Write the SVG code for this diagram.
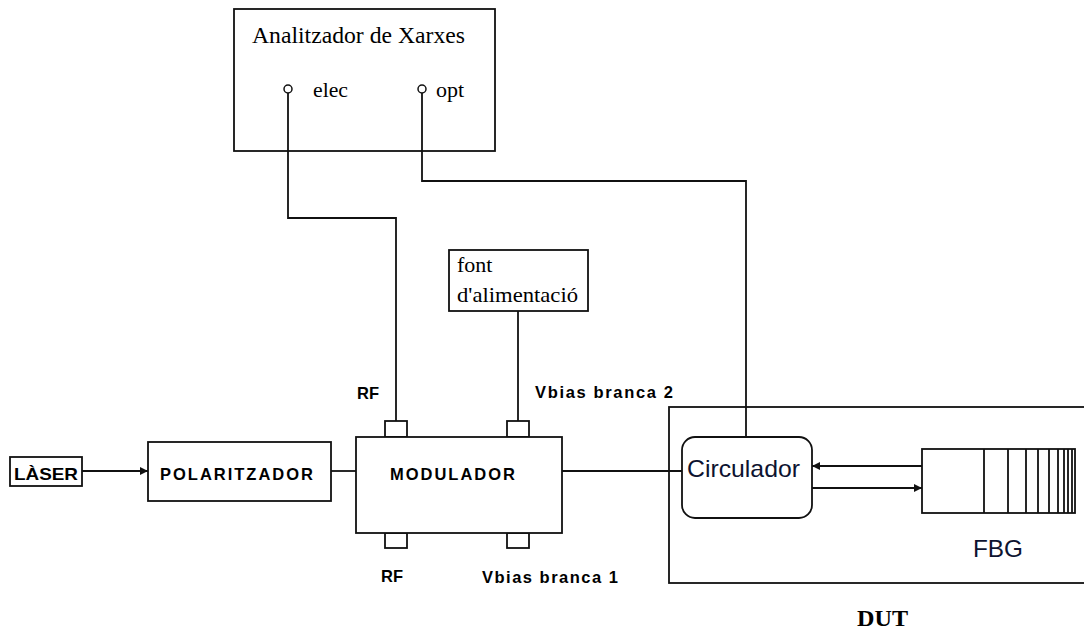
<svg xmlns="http://www.w3.org/2000/svg" width="1084" height="631" viewBox="0 0 1084 631">
<style>
.box{fill:#fff;stroke:#111;stroke-width:1.8}
.frame{fill:none;stroke:#111;stroke-width:1.8}
.ln{fill:none;stroke:#111;stroke-width:1.8}
.serif{font-family:"Liberation Serif","Times New Roman",serif;fill:#000}
.bold{font-family:"Liberation Sans",Arial,sans-serif;font-weight:bold;fill:#000;font-size:16.5px}
.sans{font-family:"Liberation Sans",Arial,sans-serif;fill:#0d1330}
</style>
<defs>
<marker id="ah" viewBox="0 0 10 10" refX="10" refY="5" markerWidth="8" markerHeight="8" markerUnits="userSpaceOnUse" orient="auto">
<path d="M0,0 L10,5 L0,10 z" fill="#111"/>
</marker>
</defs>
<rect width="1084" height="631" fill="#fff"/>

<g id="dut">
<rect class="frame" x="669" y="407" width="430" height="176"/>
<text class="serif" x="857" y="626" font-size="24" font-weight="bold" textLength="51" lengthAdjust="spacingAndGlyphs">DUT</text>
</g>

<g id="analitzador">
<rect class="box" x="234" y="9" width="261" height="142"/>
<text class="serif" x="252" y="43" font-size="23" textLength="213" lengthAdjust="spacingAndGlyphs">Analitzador de Xarxes</text>
<text class="serif" x="313" y="97" font-size="22" textLength="35" lengthAdjust="spacingAndGlyphs">elec</text>
<text class="serif" x="436" y="97" font-size="22">opt</text>
</g>

<g id="connectors">
<path class="ln" d="M288,93 V218 H396 V421"/>
<path class="ln" d="M422,93 V181 H746 V437"/>
<path class="ln" d="M518,311 V421"/>
<path class="ln" d="M82,471 H148" marker-end="url(#ah)"/>
<path class="ln" d="M331,471 H356"/>
<path class="ln" d="M562,471 H682"/>
<path class="ln" d="M922,466 H812" marker-end="url(#ah)"/>
<path class="ln" d="M812,488 H922" marker-end="url(#ah)"/>
<circle cx="288" cy="89" r="4" fill="#fff" stroke="#111" stroke-width="1.5"/>
<circle cx="422" cy="89" r="4" fill="#fff" stroke="#111" stroke-width="1.5"/>
</g>

<g id="font">
<rect class="box" x="449" y="250" width="139" height="61"/>
<text class="serif" x="457" y="272" font-size="22">font</text>
<text class="serif" x="457" y="302" font-size="22" textLength="121" lengthAdjust="spacingAndGlyphs">d'alimentació</text>
</g>

<g id="laser">
<rect class="box" x="10" y="457" width="72" height="29"/>
<text class="bold" x="14" y="480" textLength="64" lengthAdjust="spacingAndGlyphs">LÀSER</text>
</g>

<g id="polaritzador">
<rect class="box" x="148" y="442" width="183" height="59"/>
<text class="bold" x="160" y="480" textLength="153" lengthAdjust="spacing">POLARITZADOR</text>
</g>

<g id="modulador">
<rect class="box" x="385" y="421" width="22" height="16"/>
<rect class="box" x="507" y="421" width="22" height="16"/>
<rect class="box" x="385" y="533" width="22" height="15"/>
<rect class="box" x="507" y="533" width="22" height="15"/>
<rect class="box" x="356" y="437" width="206" height="96"/>
<text class="bold" x="390" y="480" textLength="125" lengthAdjust="spacing">MODULADOR</text>
<text class="bold" x="357" y="399" textLength="22" lengthAdjust="spacingAndGlyphs">RF</text>
<text class="bold" x="535" y="398" textLength="138" lengthAdjust="spacing">Vbias branca 2</text>
<text class="bold" x="381" y="582" textLength="22" lengthAdjust="spacingAndGlyphs">RF</text>
<text class="bold" x="482" y="583" textLength="136" lengthAdjust="spacing">Vbias branca 1</text>
</g>

<g id="circulador">
<rect class="box" x="682" y="437" width="130" height="81" rx="13"/>
<text class="sans" x="687" y="477" font-size="24" textLength="113" lengthAdjust="spacingAndGlyphs">Circulador</text>
</g>

<g id="fbg">
<rect class="box" x="922" y="449" width="153" height="64"/>
<path class="ln" d="M984,449V513 M1008,449V513 M1026,449V513 M1038,449V513 M1049,449V513 M1058,449V513 M1064,449V513 M1068,449V513 M1072,449V513"/>
<text class="sans" x="973" y="557" font-size="24" textLength="50" lengthAdjust="spacingAndGlyphs">FBG</text>
</g>
</svg>
